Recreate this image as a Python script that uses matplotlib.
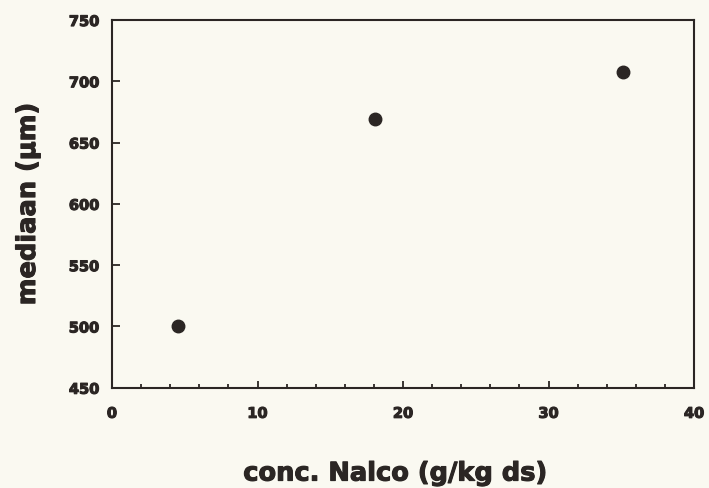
import matplotlib
matplotlib.use("Agg")
import matplotlib.pyplot as plt
import matplotlib.patheffects as pe
from matplotlib.ticker import MultipleLocator

# Median particle size against flocculant dose
conc_nalco = [4.5, 18.1, 35.1]      # g/kg ds
mediaan = [500, 669, 708]           # µm

x_ticks = [0, 10, 20, 30, 40]
y_ticks = [450, 500, 550, 600, 650, 700, 750]

ink = "#2b2624"
paper = "#faf9f1"

plt.rcParams["font.family"] = ["DejaVu Sans"]

fig = plt.figure(figsize=(7.09, 4.89), dpi=100, facecolor=paper)
ax = fig.add_axes([0.158, 0.205, 0.821, 0.752], facecolor=paper)

ax.plot(conc_nalco, mediaan, linestyle="none", marker="o",
        markersize=9, color=ink, markeredgecolor=ink)

ax.set_xlim(0, 40)
ax.set_ylim(450, 750)
ax.set_xticks(x_ticks)
ax.set_yticks(y_ticks)
ax.xaxis.set_minor_locator(MultipleLocator(2))

for side in ("left", "bottom", "right", "top"):
    ax.spines[side].set_color(ink)
    ax.spines[side].set_linewidth(1.5)

ax.tick_params(axis="both", which="both", direction="in", color=ink,
               width=1.3, top=False, right=False)
ax.tick_params(axis="x", which="major", length=5, pad=13)
ax.tick_params(axis="x", which="minor", length=3)
ax.tick_params(axis="y", which="major", length=6, pad=9)

heavy = [pe.withStroke(linewidth=0.8, foreground=ink)]
for lab in ax.get_xticklabels() + ax.get_yticklabels():
    lab.set_fontsize(10.5)
    lab.set_fontweight("bold")
    lab.set_color(ink)
    lab.set_path_effects(heavy)

ax.set_xlabel("conc. Nalco (g/kg ds)", fontsize=18.5, fontweight="bold",
              color=ink, path_effects=heavy)
ax.xaxis.set_label_coords(0.487, -0.198)
ax.set_ylabel("mediaan (µm)", fontsize=18.5, fontweight="bold",
              color=ink, labelpad=20, path_effects=heavy)

fig.savefig("out.png", dpi=100, facecolor=paper)
